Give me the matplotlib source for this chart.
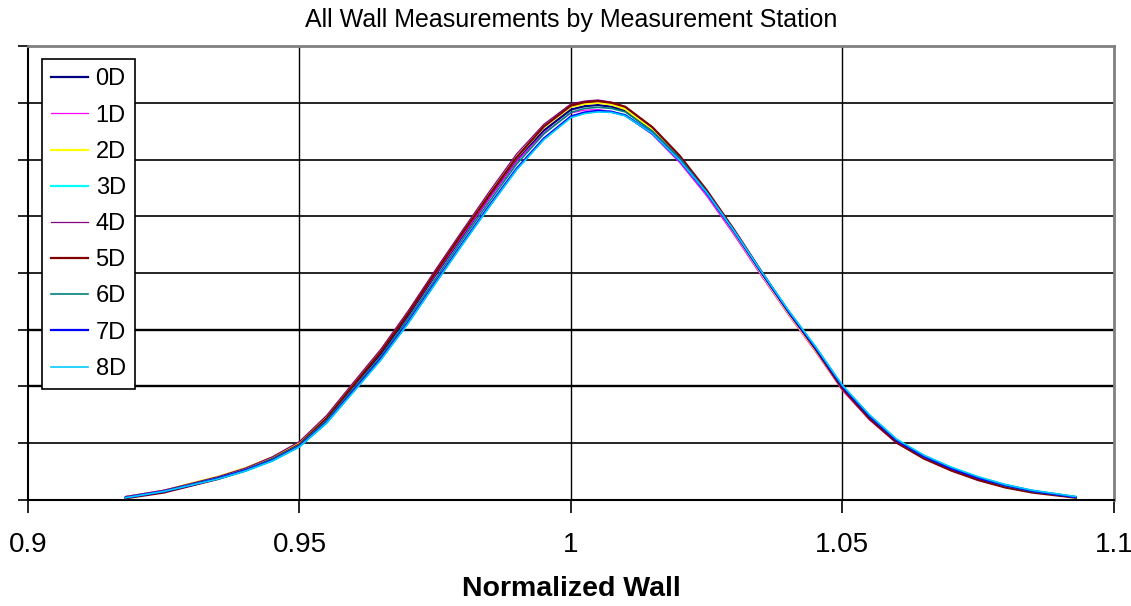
import matplotlib.pyplot as plt

plt.rcParams['font.family'] = ['Liberation Sans', 'DejaVu Sans']

# normalized wall (shared grid for all stations)
wall = [0.918, 0.925, 0.930, 0.935, 0.940, 0.945, 0.950, 0.955, 0.960, 0.965,
        0.970, 0.975, 0.980, 0.985, 0.990, 0.995, 1.000, 1.0025, 1.005, 1.0075,
        1.010, 1.015, 1.020, 1.025, 1.030, 1.035, 1.040, 1.045, 1.050, 1.055,
        1.060, 1.065, 1.070, 1.075, 1.080, 1.085, 1.093]

d0 = [0.05, 0.16, 0.28, 0.40, 0.55, 0.74, 0.99, 1.44, 2.02, 2.58, 3.25, 3.96, 4.65, 5.33, 5.98, 6.51, 6.88, 6.94, 6.96,
      6.93, 6.86, 6.51, 6.02, 5.42, 4.73, 4.01, 3.31, 2.66, 1.97, 1.45, 1.03, 0.76, 0.55, 0.38, 0.25, 0.15, 0.05]
d1 = [0.06, 0.17, 0.28, 0.40, 0.55, 0.75, 1.01, 1.47, 2.04, 2.61, 3.27, 3.97, 4.66, 5.32, 5.97, 6.47, 6.82, 6.87, 6.88,
      6.85, 6.78, 6.44, 5.95, 5.36, 4.68, 3.96, 3.27, 2.62, 1.93, 1.41, 1.00, 0.74, 0.53, 0.36, 0.24, 0.14, 0.05]
d2 = [0.05, 0.16, 0.29, 0.41, 0.56, 0.75, 1.01, 1.47, 2.05, 2.63, 3.30, 4.01, 4.71, 5.39, 6.04, 6.57, 6.93, 6.98, 7.00,
      6.97, 6.89, 6.53, 6.04, 5.42, 4.73, 4.00, 3.30, 2.65, 1.96, 1.44, 1.03, 0.75, 0.54, 0.37, 0.25, 0.15, 0.05]
d3 = [0.04, 0.15, 0.26, 0.37, 0.51, 0.69, 0.94, 1.36, 1.92, 2.48, 3.12, 3.82, 4.51, 5.18, 5.83, 6.36, 6.75, 6.82, 6.85,
      6.84, 6.78, 6.47, 6.00, 5.42, 4.75, 4.03, 3.34, 2.70, 2.01, 1.49, 1.06, 0.78, 0.57, 0.40, 0.27, 0.16, 0.05]
d4 = [0.06, 0.17, 0.29, 0.41, 0.56, 0.76, 1.03, 1.49, 2.08, 2.66, 3.33, 4.05, 4.75, 5.44, 6.10, 6.62, 6.98, 7.03, 7.05,
      7.01, 6.93, 6.57, 6.07, 5.45, 4.75, 4.02, 3.31, 2.66, 1.96, 1.44, 1.03, 0.75, 0.54, 0.37, 0.25, 0.15, 0.05]
d5 = [0.03, 0.13, 0.25, 0.37, 0.52, 0.72, 0.98, 1.44, 2.03, 2.61, 3.28, 4.00, 4.70, 5.38, 6.04, 6.58, 6.95, 7.01, 7.03,
      7.00, 6.93, 6.57, 6.07, 5.46, 4.77, 4.04, 3.33, 2.67, 1.96, 1.43, 1.01, 0.73, 0.52, 0.35, 0.22, 0.13, 0.04]
d6 = [0.04, 0.15, 0.27, 0.39, 0.53, 0.72, 0.97, 1.40, 1.97, 2.53, 3.19, 3.89, 4.59, 5.26, 5.92, 6.45, 6.83, 6.90, 6.92,
      6.90, 6.84, 6.50, 6.03, 5.43, 4.75, 4.03, 3.33, 2.69, 2.00, 1.47, 1.05, 0.76, 0.56, 0.39, 0.25, 0.15, 0.05]
d7 = [0.04, 0.15, 0.26, 0.38, 0.52, 0.70, 0.95, 1.37, 1.93, 2.49, 3.13, 3.83, 4.52, 5.19, 5.84, 6.37, 6.76, 6.83, 6.86,
      6.84, 6.78, 6.46, 5.99, 5.41, 4.74, 4.02, 3.33, 2.69, 2.00, 1.48, 1.05, 0.77, 0.56, 0.39, 0.26, 0.16, 0.05]
d8 = [0.04, 0.15, 0.26, 0.37, 0.51, 0.69, 0.94, 1.36, 1.91, 2.47, 3.11, 3.81, 4.50, 5.17, 5.82, 6.35, 6.74, 6.81, 6.84,
      6.83, 6.77, 6.46, 5.99, 5.42, 4.75, 4.04, 3.35, 2.71, 2.02, 1.50, 1.07, 0.79, 0.58, 0.41, 0.27, 0.17, 0.06]

stations = ['0D', '1D', '2D', '3D', '4D', '5D', '6D', '7D', '8D']
series = [d0, d1, d2, d3, d4, d5, d6, d7, d8]
colors = ['#000080', '#ff00ff', '#ffff00', '#00ffff', '#800080',
          '#800000', '#008080', '#0000ff', '#00ccff']
widths = [1.6, 0.9, 1.6, 1.6, 0.9, 1.6, 1.2, 1.6, 1.2]

xticks = [0.9, 0.95, 1.0, 1.05, 1.1]
xtick_labels = ['0.9', '0.95', '1', '1.05', '1.1']

fig = plt.figure(figsize=(11.31, 6.06), dpi=100)
ax = fig.add_axes([0.0248, 0.175, 0.960, 0.749])

for y in range(1, 8):
    ax.axhline(y, color='black', lw=1.7 if y in (2, 3) else 1.2, zorder=1)
for x in [0.95, 1.0, 1.05]:
    ax.axvline(x, color='black', lw=1.0, zorder=1)

for name, ys, c, w in zip(stations, series, colors, widths):
    ax.plot(wall, ys, color=c, lw=w, label=name, zorder=2)

ax.set_xlim(0.9, 1.1)
ax.set_ylim(0, 8)
ax.set_xticks(xticks)
ax.set_xticklabels(xtick_labels, fontsize=20)
ax.set_yticks(range(0, 9))
ax.set_yticklabels([])
ax.tick_params(axis='x', direction='out', length=9, width=1.2, pad=14)
ax.tick_params(axis='y', direction='out', length=7, width=1.2)

ax.spines['left'].set_color('black')
ax.spines['bottom'].set_color('black')
ax.spines['left'].set_linewidth(1.5)
ax.spines['bottom'].set_linewidth(1.5)
ax.spines['top'].set_color('#808080')
ax.spines['right'].set_color('#808080')
ax.spines['top'].set_linewidth(2)
ax.spines['right'].set_linewidth(2)

ax.set_title('All Wall Measurements by Measurement Station', fontsize=18, pad=14)
ax.set_xlabel('Normalized Wall', fontsize=20.5, fontweight='bold', labelpad=13)

leg = ax.legend(loc='upper left', bbox_to_anchor=(42 / 1131, 1 - 59 / 606),
                bbox_transform=fig.transFigure, borderaxespad=0, fontsize=17,
                handlelength=1.53, handletextpad=0.34, labelspacing=0.6,
                fancybox=False, framealpha=1, edgecolor='black', borderpad=0.4)
leg.get_frame().set_linewidth(1.2)

plt.savefig('out.png', dpi=100)
